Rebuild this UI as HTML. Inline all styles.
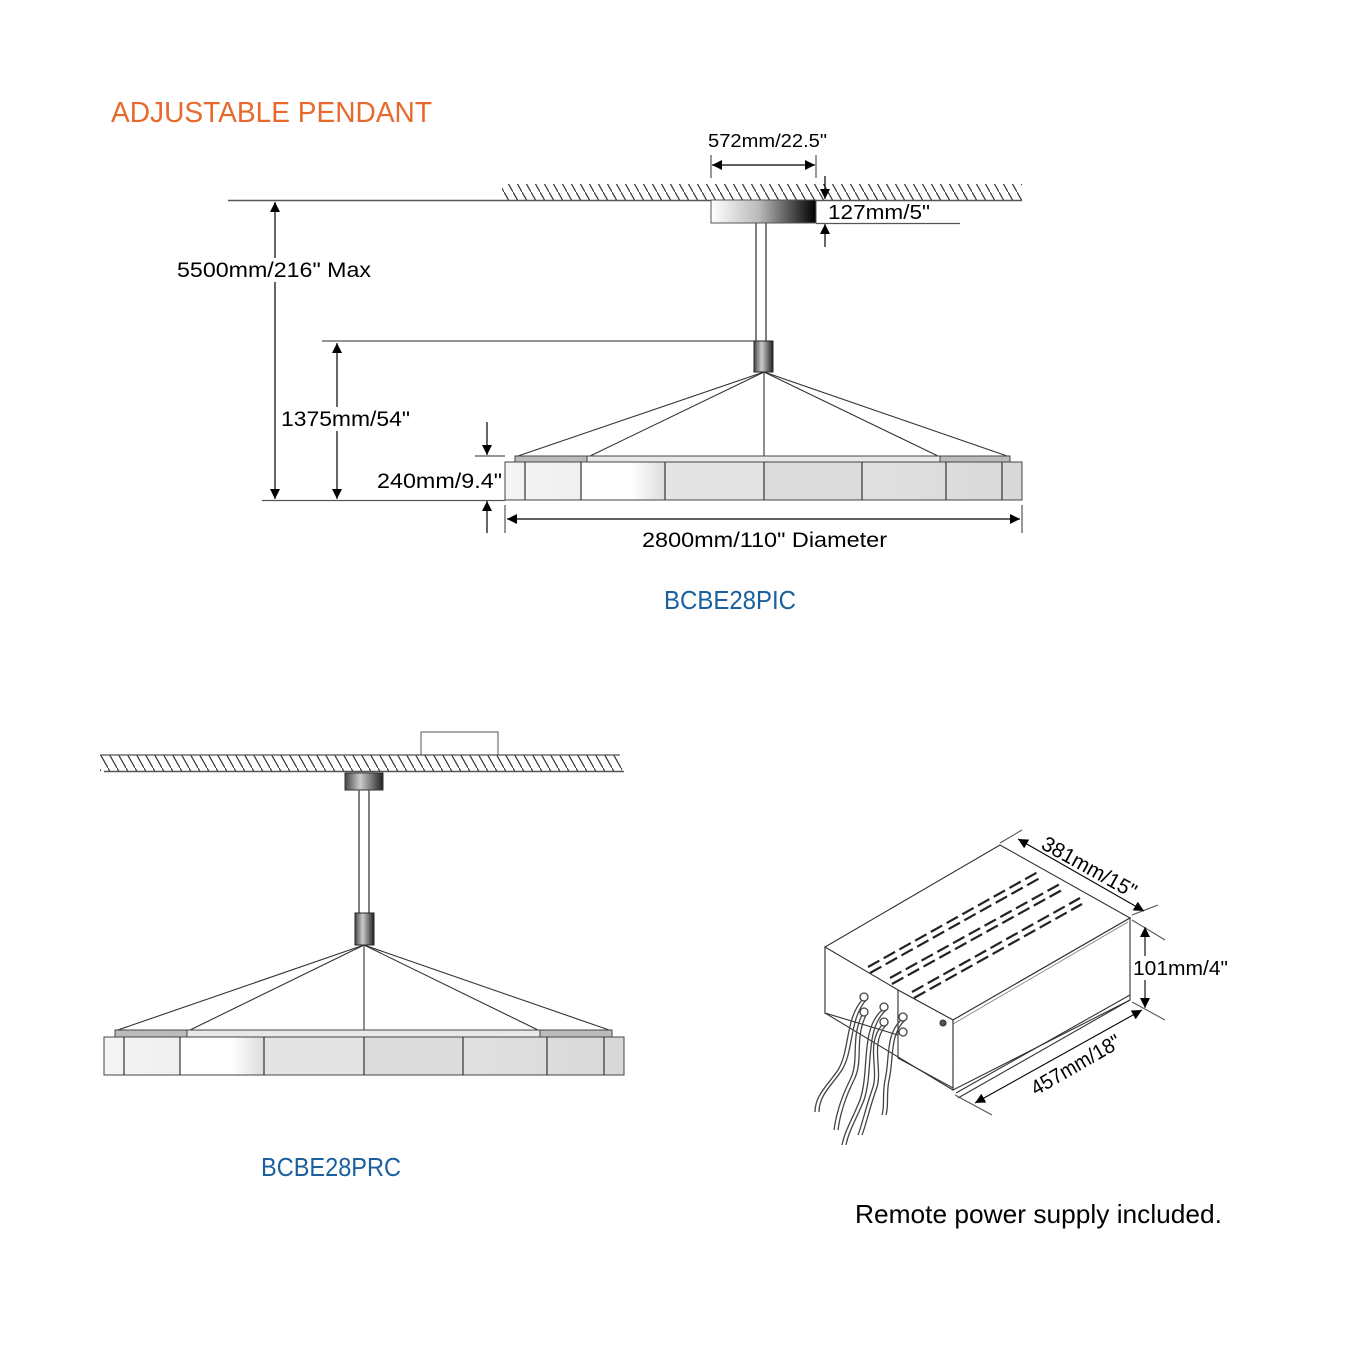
<!DOCTYPE html>
<html><head><meta charset="utf-8"><style>
html,body{margin:0;padding:0;background:#fff}
svg{display:block}
text{font-family:"Liberation Sans",sans-serif}
</style></head><body>
<svg width="1350" height="1350" viewBox="0 0 1350 1350" xmlns="http://www.w3.org/2000/svg">
<defs>
<pattern id="hatch" width="9" height="16" patternUnits="userSpaceOnUse">
<line x1="0" y1="0" x2="9" y2="16" stroke="#333" stroke-width="1.2"/>
</pattern>
<linearGradient id="can" x1="0" x2="1"><stop offset="0" stop-color="#fff"/><stop offset="0.45" stop-color="#bbb"/><stop offset="1" stop-color="#000"/></linearGradient>
<linearGradient id="cyl" x1="0" x2="1"><stop offset="0" stop-color="#444"/><stop offset="0.4" stop-color="#ccc"/><stop offset="1" stop-color="#222"/></linearGradient>
<linearGradient id="seg" x1="0" x2="1"><stop offset="0" stop-color="#f4f4f4"/><stop offset="1" stop-color="#d8d8d8"/></linearGradient>
<linearGradient id="seg2" x1="0" x2="1"><stop offset="0" stop-color="#fff"/><stop offset="0.6" stop-color="#fff"/><stop offset="1" stop-color="#ddd"/></linearGradient>
<marker id="ar" viewBox="0 0 10 10" refX="10" refY="5" markerWidth="14" markerHeight="10" markerUnits="userSpaceOnUse" orient="auto-start-reverse"><path d="M0,0 L10,5 L0,10 z" fill="#000"/></marker>
</defs>

<text x="111" y="122" font-size="29" fill="#e8692d" textLength="321" lengthAdjust="spacingAndGlyphs">ADJUSTABLE PENDANT</text>

<!-- TOP PENDANT -->
<rect x="502" y="184" width="520" height="16" fill="url(#hatch)"/>
<line x1="228" y1="200.5" x2="1022" y2="200.5" stroke="#555" stroke-width="1.5"/>
<rect x="711" y="200" width="105" height="23" fill="url(#can)" stroke="#555" stroke-width="1"/>
<line x1="756" y1="223" x2="756" y2="341" stroke="#555" stroke-width="1.5"/>
<line x1="766" y1="223" x2="766" y2="341" stroke="#555" stroke-width="1.5"/>
<line x1="322" y1="341" x2="754" y2="341" stroke="#555" stroke-width="1.2"/>
<rect x="754" y="341" width="19" height="31" fill="url(#cyl)" stroke="#222" stroke-width="1"/>
<g stroke="#333" stroke-width="1.1">
<line x1="764" y1="372" x2="515" y2="457"/><line x1="764" y1="372" x2="588" y2="457"/>
<line x1="764" y1="372" x2="764" y2="462"/><line x1="764" y1="372" x2="940" y2="457"/>
<line x1="764" y1="372" x2="1010" y2="457"/>
</g>
<rect x="515" y="456" width="495" height="6" fill="#bbb" stroke="#444" stroke-width="1"/>
<rect x="587" y="456" width="353" height="6" fill="#e8e8e8" stroke="#444" stroke-width="1"/>
<rect x="505" y="462" width="517" height="38" fill="url(#seg)" stroke="#444" stroke-width="1"/>
<rect x="581" y="462" width="84" height="38" fill="url(#seg2)"/>
<rect x="665" y="462" width="99" height="38" fill="#e4e4e4"/>
<rect x="764" y="462" width="98" height="38" fill="#dcdcdc"/>
<rect x="505" y="462" width="517" height="38" fill="none" stroke="#444" stroke-width="1"/>
<g stroke="#333" stroke-width="1.2">
<line x1="525" y1="462" x2="525" y2="500"/><line x1="581" y1="462" x2="581" y2="500"/><line x1="665" y1="462" x2="665" y2="500"/><line x1="764" y1="462" x2="764" y2="500"/><line x1="862" y1="462" x2="862" y2="500"/><line x1="946" y1="462" x2="946" y2="500"/><line x1="1002" y1="462" x2="1002" y2="500"/>
</g>

<!-- dims top -->
<g stroke="#000" stroke-width="1.2" fill="none">
<line x1="262" y1="500.5" x2="505" y2="500.5" stroke="#555"/>
<line x1="275" y1="202" x2="275" y2="499" marker-start="url(#ar)" marker-end="url(#ar)"/>
<line x1="337" y1="343" x2="337" y2="499" marker-start="url(#ar)" marker-end="url(#ar)"/>
<line x1="475" y1="456" x2="505" y2="456" stroke="#555"/>
<line x1="487" y1="422" x2="487" y2="455" marker-end="url(#ar)"/>
<line x1="487" y1="533" x2="487" y2="501" marker-end="url(#ar)"/>
<line x1="505" y1="505" x2="505" y2="533" stroke="#555"/>
<line x1="1022" y1="505" x2="1022" y2="533" stroke="#555"/>
<line x1="507" y1="519" x2="1020" y2="519" marker-start="url(#ar)" marker-end="url(#ar)"/>
<line x1="711" y1="155" x2="711" y2="178" stroke="#555"/>
<line x1="816" y1="155" x2="816" y2="178" stroke="#555"/>
<line x1="712" y1="165" x2="815" y2="165" marker-start="url(#ar)" marker-end="url(#ar)"/>
<line x1="825" y1="176" x2="825" y2="199" marker-end="url(#ar)"/>
<line x1="825" y1="247" x2="825" y2="224" marker-end="url(#ar)"/>
<line x1="816" y1="223.5" x2="960" y2="223.5" stroke="#555"/>
</g>
<rect x="175" y="258" width="198" height="24" fill="#fff"/>
<rect x="279" y="407" width="133" height="24" fill="#fff"/>
<text x="177" y="277" font-size="21" textLength="194" lengthAdjust="spacingAndGlyphs">5500mm/216" Max</text>
<text x="281" y="426" font-size="21" textLength="129" lengthAdjust="spacingAndGlyphs">1375mm/54"</text>
<text x="377" y="488" font-size="21" textLength="125" lengthAdjust="spacingAndGlyphs">240mm/9.4"</text>
<text x="642" y="547" font-size="21" textLength="245" lengthAdjust="spacingAndGlyphs">2800mm/110" Diameter</text>
<text x="708" y="147" font-size="18" textLength="119" lengthAdjust="spacingAndGlyphs">572mm/22.5"</text>
<text x="828" y="219" font-size="20" textLength="102" lengthAdjust="spacingAndGlyphs">127mm/5"</text>
<text x="664" y="609" font-size="26" fill="#1a5f9e" textLength="132" lengthAdjust="spacingAndGlyphs">BCBE28PIC</text>

<!-- BOTTOM PENDANT -->
<rect x="421" y="732" width="77" height="23" fill="#fff" stroke="#555" stroke-width="1"/>
<rect x="100" y="755" width="522" height="16" fill="url(#hatch)"/>
<line x1="100" y1="755" x2="620" y2="755" stroke="#555" stroke-width="1.2"/>
<line x1="104" y1="771.5" x2="624" y2="771.5" stroke="#555" stroke-width="1.5"/>
<rect x="345" y="773" width="38" height="17" fill="url(#cyl)" stroke="#333" stroke-width="1"/>
<line x1="359" y1="790" x2="359" y2="913" stroke="#555" stroke-width="1.5"/>
<line x1="369" y1="790" x2="369" y2="913" stroke="#555" stroke-width="1.5"/>
<rect x="355" y="913" width="19" height="32" fill="url(#cyl)" stroke="#222" stroke-width="1"/>
<g stroke="#333" stroke-width="1.1">
<line x1="364" y1="945" x2="115" y2="1031"/><line x1="364" y1="945" x2="188" y2="1031"/>
<line x1="364" y1="945" x2="364" y2="1037"/><line x1="364" y1="945" x2="540" y2="1031"/>
<line x1="364" y1="945" x2="612" y2="1031"/>
</g>
<rect x="115" y="1030" width="497" height="7" fill="#bbb" stroke="#444" stroke-width="1"/>
<rect x="187" y="1030" width="353" height="7" fill="#e8e8e8" stroke="#444" stroke-width="1"/>
<rect x="104" y="1037" width="520" height="38" fill="url(#seg)"/>
<rect x="180" y="1037" width="84" height="38" fill="url(#seg2)"/>
<rect x="264" y="1037" width="100" height="38" fill="#e4e4e4"/>
<rect x="364" y="1037" width="99" height="38" fill="#dcdcdc"/>
<rect x="104" y="1037" width="520" height="38" fill="none" stroke="#444" stroke-width="1"/>
<g stroke="#333" stroke-width="1.2">
<line x1="124" y1="1037" x2="124" y2="1075"/><line x1="180" y1="1037" x2="180" y2="1075"/><line x1="264" y1="1037" x2="264" y2="1075"/><line x1="364" y1="1037" x2="364" y2="1075"/><line x1="463" y1="1037" x2="463" y2="1075"/><line x1="547" y1="1037" x2="547" y2="1075"/><line x1="604" y1="1037" x2="604" y2="1075"/>
</g>
<text x="261" y="1176" font-size="26" fill="#1a5f9e" textLength="140" lengthAdjust="spacingAndGlyphs">BCBE28PRC</text>

<!-- POWER SUPPLY -->
<g stroke="#333" stroke-width="1.1" fill="#fff">
<polygon points="825,947 1000,845 1130,918 953,1020 898,990 898,1005 825,1013"/>
<polygon points="825,947 898,990 898,1035 825,1013" fill="#fff"/>
<polygon points="898,990 953,1020 953,1088 898,1058"/>
<polygon points="953,1020 1130,918 1130,1000 953,1090"/>
<polyline points="825,1013 953,1090" fill="none"/>
<line x1="953" y1="1024" x2="1128" y2="922" stroke-width="0.8" stroke="#777"/>
<line x1="956" y1="1093" x2="1130" y2="995"/>
<line x1="958" y1="1098" x2="1130" y2="1000"/>
<circle cx="943" cy="1023" r="3" fill="#555"/>
</g>
<g stroke="#222" stroke-width="2.2" stroke-dasharray="13,5" fill="none">
<line x1="868" y1="967" x2="1038" y2="872"/><line x1="870" y1="973" x2="1040" y2="878"/>
<line x1="890" y1="978" x2="1060" y2="884"/><line x1="892" y1="984" x2="1062" y2="890"/>
<line x1="912" y1="992" x2="1080" y2="898"/><line x1="914" y1="998" x2="1082" y2="904"/>
</g>
<!-- wires -->
<g fill="none" stroke="#444" stroke-width="1.3">
<circle cx="864" cy="997" r="4"/><circle cx="864" cy="1012" r="4"/><circle cx="884" cy="1007" r="4"/><circle cx="884" cy="1022" r="4"/><circle cx="903" cy="1017" r="4"/><circle cx="903" cy="1032" r="4"/>
<path d="M862,1000 C845,1020 850,1050 838,1070 C828,1085 815,1095 815,1112"/>
<path d="M866,1000 C849,1020 854,1050 842,1070 C832,1085 819,1095 819,1112"/>
<path d="M862,1015 C850,1040 860,1060 850,1080 C840,1100 836,1115 834,1130"/>
<path d="M866,1015 C854,1040 864,1060 854,1080 C844,1100 840,1115 838,1130"/>
<path d="M882,1010 C860,1030 870,1070 860,1100 C852,1120 845,1130 842,1145"/>
<path d="M886,1010 C864,1030 874,1070 864,1100 C856,1120 849,1130 846,1145"/>
<path d="M882,1025 C865,1045 880,1070 872,1090 C865,1110 862,1125 858,1135"/>
<path d="M886,1025 C869,1045 884,1070 876,1090 C869,1110 866,1125 862,1135"/>
<path d="M901,1020 C885,1035 890,1060 885,1080 C882,1095 885,1105 882,1115"/>
<path d="M905,1020 C889,1035 894,1060 889,1080 C886,1095 889,1105 886,1115"/>
</g>
<!-- box dims -->
<g stroke="#000" stroke-width="1.1" fill="none">
<line x1="1000" y1="843" x2="1022" y2="830" stroke="#555"/>
<line x1="1132" y1="915" x2="1158" y2="905" stroke="#555"/>
<line x1="1018" y1="839" x2="1144" y2="911" marker-start="url(#ar)" marker-end="url(#ar)"/>
<line x1="1132" y1="920" x2="1165" y2="940" stroke="#555"/>
<line x1="1132" y1="1002" x2="1165" y2="1020" stroke="#555"/>
<line x1="1145" y1="927" x2="1145" y2="1008" marker-start="url(#ar)" marker-end="url(#ar)"/>
<line x1="955" y1="1095" x2="992" y2="1115" stroke="#555"/>
<line x1="975" y1="1103" x2="1142" y2="1010" marker-start="url(#ar)" marker-end="url(#ar)"/>
</g>
<rect x="1132" y="956" width="98" height="24" fill="#fff"/>
<text x="1040" y="848" font-size="21" transform="rotate(29 1040 848)" textLength="105" lengthAdjust="spacingAndGlyphs">381mm/15"</text>
<text x="1133" y="975" font-size="20" textLength="95" lengthAdjust="spacingAndGlyphs">101mm/4"</text>
<text x="1036" y="1096" font-size="21" transform="rotate(-30 1036 1096)" textLength="100" lengthAdjust="spacingAndGlyphs">457mm/18"</text>
<text x="855" y="1223" font-size="26" textLength="367" lengthAdjust="spacingAndGlyphs">Remote power supply included.</text>
</svg>
</body></html>
